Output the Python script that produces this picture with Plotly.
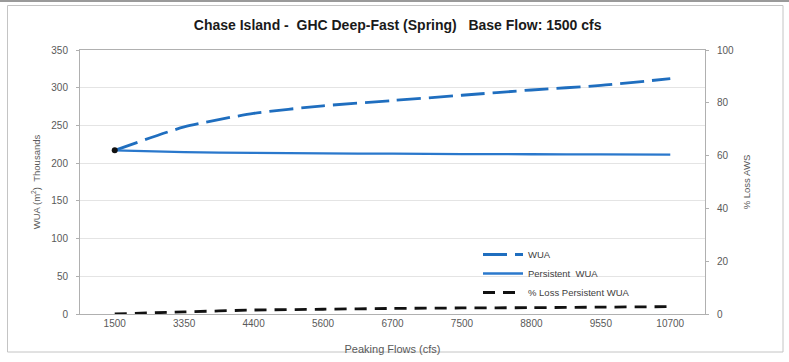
import plotly.graph_objects as go

# Peaking flow scenarios (cfs) and habitat results
peaking_flows = ["1500", "3350", "4400", "5600", "6700", "7500", "8800", "9550", "10700"]
wua_thousands = [217, 248, 266, 276, 283, 290, 297, 303, 312]
persistent_wua_thousands = [217, 214.5, 213.5, 213, 212.5, 212, 211.8, 211.5, 211.2]
pct_loss_persistent = [0, 0.8, 1.5, 1.8, 2.1, 2.3, 2.4, 2.6, 2.8]

y_ticks_left = [0, 50, 100, 150, 200, 250, 300, 350]
y_ticks_right = [0, 20, 40, 60, 80, 100]

FONT = "Liberation Sans, Arial, sans-serif"
W, H = 789, 362
ML, MR, MT, MB = 80, 84, 50, 48
PW, PH = W - ML - MR, H - MT - MB


def px_to_paper_x(px):
    return (px - ML) / PW


def px_to_paper_y(py):
    return (H - MB - py) / PH


fig = go.Figure()

fig.add_trace(go.Scatter(
    x=peaking_flows, y=wua_thousands, name="WUA", mode="lines",
    line=dict(color="#1f6ebf", width=2.8, dash="24px,8px", shape="spline", smoothing=0.6),
))
fig.add_trace(go.Scatter(
    x=peaking_flows, y=persistent_wua_thousands, name="Persistent\u00a0\u00a0WUA", mode="lines",
    line=dict(color="#2a78cc", width=2.3, shape="spline", smoothing=0.6),
))
fig.add_trace(go.Scatter(
    x=peaking_flows, y=pct_loss_persistent, name="%\u00a0Loss Persistent WUA", mode="lines",
    yaxis="y2",
    line=dict(color="#111111", width=2.8, dash="12px,8px", shape="spline", smoothing=0.6),
))
# Base-flow point
fig.add_trace(go.Scatter(
    x=peaking_flows[:1], y=wua_thousands[:1], mode="markers", showlegend=False,
    marker=dict(color="#111111", size=6),
))

axis_line = "#b0b0b0"
tick_font = dict(family=FONT, size=10, color="#595959")
axis_title_font = dict(family=FONT, size=9.5, color="#595959")

fig.update_layout(
    width=W, height=H,
    margin=dict(l=ML, r=MR, t=MT, b=MB),
    paper_bgcolor="white", plot_bgcolor="white",
    font=dict(family=FONT, color="#404040"),
    title=dict(
        text="<b>Chase Island -\u00a0\u00a0GHC Deep-Fast (Spring)\u00a0\u00a0\u00a0Base Flow: 1500 cfs</b>",
        x=0.504, xanchor="center", y=(H - 25) / H, yanchor="middle",
        font=dict(family=FONT, size=14, color="#1a1a1a"),
    ),
    xaxis=dict(
        type="category", categoryorder="array", categoryarray=peaking_flows,
        range=[-0.5, len(peaking_flows) - 0.5], automargin=False,
        showline=True, linecolor=axis_line, linewidth=1, mirror=True,
        showgrid=False, ticks="", tickfont=tick_font,
        title=dict(text="Peaking Flows (cfs)", font=dict(family=FONT, size=11, color="#595959"), standoff=17),
    ),
    yaxis=dict(
        range=[0, 350], tickvals=y_ticks_left, automargin=False,
        showline=True, linecolor=axis_line, linewidth=1, mirror=True,
        showgrid=True, gridcolor="#e4e4e4", gridwidth=1, zeroline=False,
        ticks="outside", ticklen=3, tickcolor=axis_line, tickfont=tick_font,
        ticklabelstandoff=6,
        title=dict(text="WUA (m<sup>2</sup>)\u00a0\u00a0Thousands", font=axis_title_font, standoff=8),
    ),
    yaxis2=dict(
        overlaying="y", side="right", range=[0, 100], tickvals=y_ticks_right, automargin=False,
        showline=True, linecolor=axis_line, linewidth=1,
        showgrid=False, zeroline=False,
        ticks="outside", ticklen=3, tickcolor=axis_line, tickfont=tick_font,
        ticklabelstandoff=6,
        title=dict(text="%\u00a0Loss AWS", font=axis_title_font, standoff=10),
    ),
    legend=dict(
        x=px_to_paper_x(478), y=px_to_paper_y(240), xanchor="left", yanchor="top",
        bgcolor="rgba(255,255,255,0)", font=dict(family=FONT, size=9.5, color="#404040"),
        itemwidth=40, tracegroupgap=0,
    ),
    showlegend=True,
)

# Outer chart frame
fig.add_shape(type="line", xref="paper", yref="paper",
              x0=px_to_paper_x(0), x1=px_to_paper_x(W), y0=px_to_paper_y(1), y1=px_to_paper_y(1),
              line=dict(color="#9a9a9a", width=2))
fig.add_shape(type="rect", xref="paper", yref="paper",
              x0=px_to_paper_x(7.5), x1=px_to_paper_x(783), y0=px_to_paper_y(5.5), y1=px_to_paper_y(352),
              line=dict(color="#c4c4c4", width=1))

fig.write_html("out.html")
